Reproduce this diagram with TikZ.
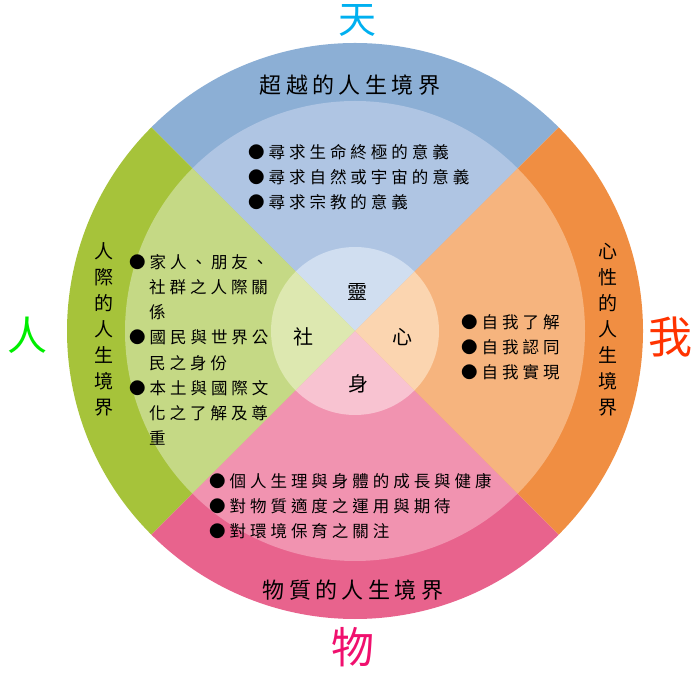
\documentclass[tikz,border=0pt]{standalone}
\usepackage{fontspec}
\setmainfont{Noto Sans CJK TC}
\newfontfamily\trk[LetterSpace=24]{Noto Sans CJK TC}
\newfontfamily\trkb[LetterSpace=20]{Noto Sans CJK TC}
\definecolor{bO}{HTML}{8CAFD5}
\definecolor{bI}{HTML}{AFC5E3}
\definecolor{bC}{HTML}{D0DEF0}
\definecolor{gO}{HTML}{A6C33A}
\definecolor{gI}{HTML}{C5D985}
\definecolor{gC}{HTML}{DDE8B0}
\definecolor{oO}{HTML}{F08E42}
\definecolor{oI}{HTML}{F6B47E}
\definecolor{oC}{HTML}{FBD5B0}
\definecolor{pO}{HTML}{E8638D}
\definecolor{pI}{HTML}{F193B0}
\definecolor{pC}{HTML}{F8C3D1}
\definecolor{tianC}{HTML}{00B0F0}
\definecolor{renC}{HTML}{00EE00}
\definecolor{woC}{HTML}{FF3300}
\definecolor{wuC}{HTML}{F0106E}
\begin{document}
\begin{tikzpicture}[x=1pt,y=1pt,
  txt/.style={inner sep=0pt, anchor=west, font=\trk\fontsize{16.5}{20}\selectfont},
  ttl/.style={inner sep=0pt, font=\trkb\fontsize{22}{26}\selectfont},
  vert/.style={inner sep=0pt, align=center, font=\fontsize{19}{25.9}\selectfont},
  ctr/.style={inner sep=0pt, font=\fontsize{20}{24}\selectfont},
  big/.style={inner sep=0pt}]
\useasboundingbox (0,0) rectangle (700,674);
\coordinate (c) at (355,343);
% sectors: outer, inner, centre
\foreach \r/\t in {288/O,230/I,84/C}{
  \fill[b\t] (c) -- ++(45:\r) arc[start angle=45,end angle=135,radius=\r] -- cycle;
  \fill[g\t] (c) -- ++(135:\r) arc[start angle=135,end angle=225,radius=\r] -- cycle;
  \fill[p\t] (c) -- ++(225:\r) arc[start angle=225,end angle=315,radius=\r] -- cycle;
  \fill[o\t] (c) -- ++(-45:\r) arc[start angle=-45,end angle=45,radius=\r] -- cycle;
}
% big labels
\node[big, text=tianC, font=\fontsize{38}{40}\selectfont] (tian) at (357,654) {天};
\node[big, text=renC, font=\fontsize{40}{42}\selectfont] (ren) at (28,339) {人};
\node[big, text=woC, font=\fontsize{44}{46}\selectfont] (wo) at (670,337) {我};
\node[big, text=wuC, font=\fontsize{43}{45}\selectfont] (wu) at (353,27) {物};
% titles
\node[ttl] (ttop) at (350,589) {超越的人生境界};
\node[ttl] (tbot) at (353,84) {物質的人生境界};
\node[vert] (tleft) at (104,344.5) {人\\際\\的\\人\\生\\境\\界};
\node[vert] (tright) at (608,344.5) {心\\性\\的\\人\\生\\境\\界};
% centre
\node[ctr] (ling) at (357.7,382.3) {靈};
\node[ctr] (she) at (303,337) {社};
\node[ctr] (xin) at (402.7,337) {心};
\node[ctr] (shen) at (358,290) {身};
% top bullets
\node[txt] (a1) at (248,522) {●尋求生命終極的意義};
\node[txt] (a2) at (248,497) {●尋求自然或宇宙的意義};
\node[txt] (a3) at (248,472) {●尋求宗教的意義};
% left bullets
\node[txt] (b1) at (129,412) {●家人、朋友、};
\node[txt] (b2) at (149,386.8) {社群之人際關};
\node[txt] (b3) at (149,361.6) {係};
\node[txt] (b4) at (129,336.4) {●國民與世界公};
\node[txt] (b5) at (149,311.2) {民之身份};
\node[txt] (b6) at (129,286) {●本土與國際文};
\node[txt] (b7) at (149,260.8) {化之了解及尊};
\node[txt] (b8) at (149,235.6) {重};
% right bullets
\node[txt] (c1) at (461,352) {●自我了解};
\node[txt] (c2) at (461,327) {●自我認同};
\node[txt] (c3) at (461,302) {●自我實現};
% bottom bullets
\node[txt] (d1) at (209,193) {●個人生理與身體的成長與健康};
\node[txt] (d2) at (209,168) {●對物質適度之運用與期待};
\node[txt] (d3) at (209,143) {●對環境保育之關注};
\end{tikzpicture}
\end{document}
